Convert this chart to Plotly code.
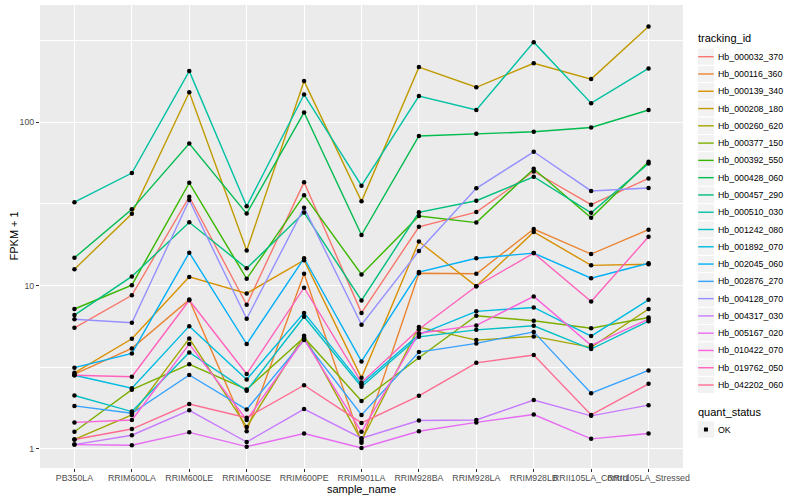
import plotly.graph_objects as go

# ---------------- data ----------------
sample_names = ["PB350LA", "RRIM600LA", "RRIM600LE", "RRIM600SE", "RRIM600PE",
                "RRIM901LA", "RRIM928BA", "RRIM928LA", "RRIM928LB",
                "RRII105LA_Control", "RRII105LA_Stressed"]

tracking_ids = ["Hb_000032_370", "Hb_000116_360", "Hb_000139_340", "Hb_000208_180",
                "Hb_000260_620", "Hb_000377_150", "Hb_000392_550", "Hb_000428_060",
                "Hb_000457_290", "Hb_000510_030", "Hb_001242_080", "Hb_001892_070",
                "Hb_002045_060", "Hb_002876_270", "Hb_004128_070", "Hb_004317_030",
                "Hb_005167_020", "Hb_010422_070", "Hb_019762_050", "Hb_042202_060"]

track_colors = ["#F8766D", "#EA8331", "#D89000", "#C09B00", "#A3A500", "#7CAE00",
                "#39B600", "#00BB4E", "#00BF7D", "#00C1A3", "#00BFC4", "#00BAE0",
                "#00B0F6", "#35A2FF", "#9590FF", "#C77CFF", "#E76BF3", "#FA62DB",
                "#FF62BC", "#FF6C91"]

# FPKM + 1 per gene, in sample_names order
hb_000032_370 = [5.51, 8.71, 35.0, 7.63, 43.0, 6.8, 22.9, 28.2, 50.0, 31.3, 45.3]
hb_000116_360 = [2.87, 4.12, 8.2, 1.28, 11.8, 1.09, 11.9, 11.8, 22.2, 15.6, 22.0]
hb_000139_340 = [2.92, 4.72, 11.3, 8.95, 14.3, 2.72, 18.6, 9.9, 21.3, 13.3, 13.5]
hb_000208_180 = [12.6, 27.5, 153.0, 16.4, 179.0, 32.8, 218.0, 164.0, 230.0, 184.0, 387.0]
hb_000260_620 = [1.14, 1.61, 4.74, 1.36, 4.93, 1.12, 5.57, 4.63, 4.88, 4.18, 7.18]
hb_000377_150 = [1.27, 2.30, 3.29, 2.31, 4.8, 1.96, 3.61, 6.53, 6.08, 5.47, 6.37]
hb_000392_550 = [7.18, 10.05, 42.6, 11.0, 35.8, 11.7, 26.7, 24.3, 51.9, 26.0, 57.4]
hb_000428_060 = [14.8, 29.3, 74.2, 27.6, 115.0, 20.4, 82.5, 85.1, 87.6, 93.0, 119.0]
hb_000457_290 = [6.59, 11.37, 24.4, 12.75, 28.0, 8.1, 28.1, 33.1, 46.4, 27.9, 56.0]
hb_000510_030 = [32.4, 48.9, 206.0, 30.6, 148.0, 40.9, 145.0, 119.0, 310.0, 131.0, 214.0]
hb_001242_080 = [2.12, 1.69, 3.89, 2.27, 6.44, 2.40, 4.85, 5.35, 5.67, 4.08, 6.05]
hb_001892_070 = [2.82, 2.35, 5.64, 2.66, 6.8, 2.48, 5.0, 6.95, 7.34, 4.9, 8.17]
hb_002045_060 = [3.14, 3.84, 15.9, 4.38, 14.7, 3.43, 12.1, 14.7, 15.8, 11.1, 13.7]
hb_002876_270 = [1.83, 1.65, 2.83, 1.74, 4.63, 1.61, 3.91, 4.42, 5.2, 2.19, 3.02]
hb_004128_070 = [6.21, 5.91, 33.4, 6.26, 30.0, 5.75, 16.3, 39.4, 66.0, 38.0, 39.6]
hb_004317_030 = [1.06, 1.21, 1.72, 1.10, 1.75, 1.16, 1.49, 1.50, 1.99, 1.59, 1.85]
hb_005167_020 = [1.06, 1.05, 1.26, 1.03, 1.24, 1.01, 1.28, 1.45, 1.62, 1.15, 1.24]
hb_010422_070 = [1.45, 1.50, 4.38, 1.50, 4.7, 1.27, 5.1, 5.7, 8.58, 4.3, 6.23]
hb_019762_050 = [2.82, 2.76, 8.13, 2.87, 9.7, 2.55, 5.4, 9.9, 15.8, 7.99, 19.9]
hb_042202_060 = [1.14, 1.32, 1.88, 1.55, 2.45, 1.44, 2.11, 3.36, 3.75, 1.61, 2.50]

fpkm_series = [hb_000032_370, hb_000116_360, hb_000139_340, hb_000208_180,
               hb_000260_620, hb_000377_150, hb_000392_550, hb_000428_060,
               hb_000457_290, hb_000510_030, hb_001242_080, hb_001892_070,
               hb_002045_060, hb_002876_270, hb_004128_070, hb_004317_030,
               hb_005167_020, hb_010422_070, hb_019762_050, hb_042202_060]

y_tick_vals = [1, 10, 100]
y_tick_text = ["1", "10", "100"]
y_minor_vals = [10 ** 0.5, 10 ** 1.5, 10 ** 2.5]
quant_levels = ["OK"]

# ---------------- layout geometry (pixels) ----------------
W, H = 800, 500
PL, PR, PT, PB = 40, 683, 5, 468
FONT = "Liberation Sans, Arial, Helvetica, sans-serif"


def px_x(x):
    return (x - PL) / (PR - PL)


def px_y(y):
    return (PB - y) / (PB - PT)


fig = go.Figure()

# lines first (ggplot draws geom_line, then geom_point)
for name, col, vals in zip(tracking_ids, track_colors, fpkm_series):
    fig.add_trace(go.Scatter(x=sample_names, y=vals, mode="lines", name=name,
                             line=dict(color=col, width=1.4), showlegend=False,
                             hoverinfo="x+y+name"))

all_x, all_y = [], []
for vals in fpkm_series:
    all_x += sample_names
    all_y += vals
fig.add_trace(go.Scatter(x=all_x, y=all_y, mode="markers", name=quant_levels[0],
                         marker=dict(color="black", size=4.5, symbol="circle"),
                         showlegend=False))

shapes = []
annotations = []

# axis titles
annotations.append(dict(x=px_x((PL + PR) / 2), y=px_y(489), xref="paper", yref="paper",
                        text="sample_name", showarrow=False, xanchor="center", yanchor="middle",
                        font=dict(family=FONT, size=11, color="black")))
annotations.append(dict(x=px_x(13), y=px_y((PT + PB) / 2), xref="paper", yref="paper",
                        text="FPKM + 1", showarrow=False, textangle=-90,
                        xanchor="center", yanchor="middle",
                        font=dict(family=FONT, size=11, color="black")))

# manual ggplot-style legend
KX0, KS = 697.3, 17.28
annotations.append(dict(x=px_x(696), y=px_y(38), xref="paper", yref="paper",
                        text="tracking_id", showarrow=False, xanchor="left", yanchor="middle",
                        font=dict(family=FONT, size=11, color="black")))
for i, (name, col) in enumerate(zip(tracking_ids, track_colors)):
    yc = 56.7 + KS * i
    shapes.append(dict(type="rect", xref="paper", yref="paper",
                       x0=px_x(KX0), x1=px_x(KX0 + KS), y0=px_y(yc + KS / 2), y1=px_y(yc - KS / 2),
                       fillcolor="#F2F2F2", line=dict(color="white", width=1), layer="above"))
    shapes.append(dict(type="line", xref="paper", yref="paper",
                       x0=px_x(KX0 + 0.9), x1=px_x(KX0 + KS - 0.9), y0=px_y(yc), y1=px_y(yc),
                       line=dict(color=col, width=1.4), layer="above"))
    annotations.append(dict(x=px_x(715.5), y=px_y(yc), xref="paper", yref="paper",
                            text=name, showarrow=False, xanchor="left", yanchor="middle",
                            font=dict(family=FONT, size=8.8, color="black")))

annotations.append(dict(x=px_x(696), y=px_y(411.7), xref="paper", yref="paper",
                        text="quant_status", showarrow=False, xanchor="left", yanchor="middle",
                        font=dict(family=FONT, size=11, color="black")))
for j, lev in enumerate(quant_levels):
    yc = 429.5 + KS * j
    shapes.append(dict(type="rect", xref="paper", yref="paper",
                       x0=px_x(KX0), x1=px_x(KX0 + KS), y0=px_y(yc + KS / 2), y1=px_y(yc - KS / 2),
                       fillcolor="#F2F2F2", line=dict(color="white", width=1), layer="above"))
    cx = KX0 + KS / 2
    shapes.append(dict(type="rect", xref="paper", yref="paper",
                       x0=px_x(cx - 2), x1=px_x(cx + 2), y0=px_y(yc + 2), y1=px_y(yc - 2),
                       fillcolor="black", line=dict(width=0), layer="above"))
    annotations.append(dict(x=px_x(715.5), y=px_y(yc), xref="paper", yref="paper",
                            text=lev, showarrow=False, xanchor="left", yanchor="middle",
                            font=dict(family=FONT, size=8.8, color="black")))

fig.update_layout(
    width=W, height=H,
    margin=dict(l=PL, r=W - PR, t=PT, b=H - PB, pad=0),
    paper_bgcolor="white", plot_bgcolor="#EBEBEB",
    font=dict(family=FONT, size=8.8, color="#4D4D4D"),
    showlegend=False,
    shapes=shapes, annotations=annotations,
    xaxis=dict(type="category", categoryorder="array", categoryarray=sample_names,
               range=[-0.6, len(sample_names) - 0.4],
               showgrid=True, gridcolor="white", gridwidth=1.4,
               zeroline=False, showline=False,
               ticks="outside", ticklen=3, tickwidth=1.2, tickcolor="#333333",
               ticklabelstandoff=-2,
               tickangle=0, tickfont=dict(family=FONT, size=8.8, color="#4D4D4D")),
    yaxis=dict(type="log", range=[-0.118, 2.719],
               tickmode="array", tickvals=y_tick_vals, ticktext=y_tick_text,
               showgrid=True, gridcolor="white", gridwidth=1.4,
               minor=dict(tickmode="array", tickvals=y_minor_vals, showgrid=True,
                          gridcolor="white", gridwidth=0.7, ticks=""),
               zeroline=False, showline=False,
               ticks="outside", ticklen=3, tickwidth=1.2, tickcolor="#333333",
               tickfont=dict(family=FONT, size=8.8, color="#4D4D4D")),
)

fig.write_html("out.html", config={"displayModeBar": False},
               post_script="document.body.style.margin='0px';document.body.style.padding='0px';")
